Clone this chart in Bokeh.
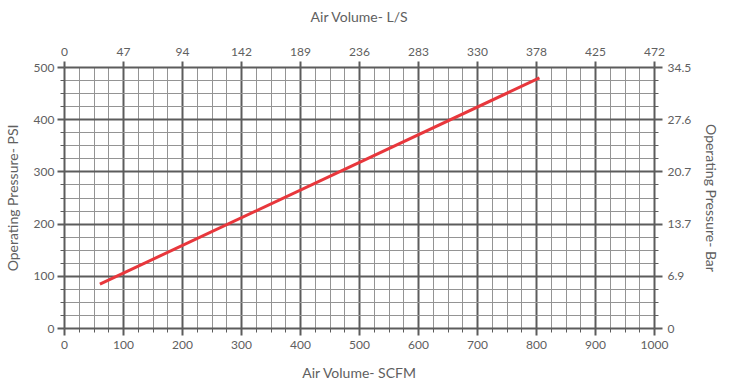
from bokeh.plotting import figure
from bokeh.models import LinearAxis, FixedTicker, Range1d
from bokeh.embed import file_html
from bokeh.resources import INLINE

# ---- data ----
scfm_ticks = [0, 100, 200, 300, 400, 500, 600, 700, 800, 900, 1000]
lps_labels = ["0", "47", "94", "142", "189", "236", "283", "330", "378", "425", "472"]
psi_ticks = [0, 100, 200, 300, 400, 500]
bar_labels = ["0", "6.9", "13.7", "20.7", "27.6", "34.5"]
line_scfm = [60, 805]
line_psi = [85, 480]

x_minor = [v for v in range(0, 1001, 25) if v % 100]
y_minor = [v for v in range(0, 501, 25) if v % 100]

FONT = "Lato"
TXT = "#606060"
MAJOR = "#5c5c5c"
MINOR = "#949494"

p = figure(frame_width=590, frame_height=261,
           min_border_left=63, min_border_right=60,
           min_border_top=67, min_border_bottom=50,
           x_range=Range1d(0, 1000), y_range=Range1d(0, 500),
           output_backend="svg", toolbar_location=None,
           x_axis_label="Air Volume- SCFM", y_axis_label="Operating Pressure- PSI")
p.outline_line_color = None
p.background_fill_color = "white"

xt = FixedTicker(ticks=scfm_ticks, minor_ticks=x_minor)
yt = FixedTicker(ticks=psi_ticks, minor_ticks=y_minor)
p.xaxis.ticker = xt
p.yaxis.ticker = yt
p.xgrid.ticker = xt
p.ygrid.ticker = yt

for g in (p.xgrid, p.ygrid):
    g.grid_line_color = MAJOR
    g.grid_line_width = 2
    g.minor_grid_line_color = MINOR
    g.minor_grid_line_width = 1

def style(ax, title_standoff):
    ax.axis_line_color = MAJOR
    ax.axis_line_width = 2
    ax.major_tick_line_color = MAJOR
    ax.major_tick_line_width = 2
    ax.major_tick_out = 7
    ax.major_tick_in = 0
    ax.minor_tick_line_color = MAJOR
    ax.minor_tick_line_width = 1
    ax.minor_tick_out = 4
    ax.minor_tick_in = 0
    ax.major_label_text_font = FONT
    ax.major_label_text_font_size = "12px"
    ax.major_label_text_color = TXT
    ax.axis_label_text_font = FONT
    ax.axis_label_text_font_size = "14px"
    ax.axis_label_text_font_style = "normal"
    ax.axis_label_text_color = TXT
    ax.axis_label_standoff = title_standoff

style(p.xaxis[0], 12)
p.xaxis[0].major_label_standoff = 5
style(p.yaxis[0], 10)
p.yaxis[0].major_label_standoff = 3

top = LinearAxis(ticker=FixedTicker(ticks=scfm_ticks),
                 axis_label="Air Volume- L/S",
                 major_label_overrides={t: l for t, l in zip(scfm_ticks, lps_labels)})
style(top, 20)
top.minor_tick_line_color = None
top.major_tick_out = 6
top.major_label_standoff = 6
p.add_layout(top, "above")

right = LinearAxis(ticker=FixedTicker(ticks=psi_ticks, minor_ticks=y_minor),
                   axis_label="Operating Pressure- Bar",
                   major_label_overrides={t: l for t, l in zip(psi_ticks, bar_labels)})
style(right, 9)
right.major_tick_out = 8
right.major_label_standoff = 5
p.add_layout(right, "right")

p.line(line_scfm, line_psi, line_color="#e8373c", line_width=3)

open("out.html", "w").write(file_html(p, INLINE))
